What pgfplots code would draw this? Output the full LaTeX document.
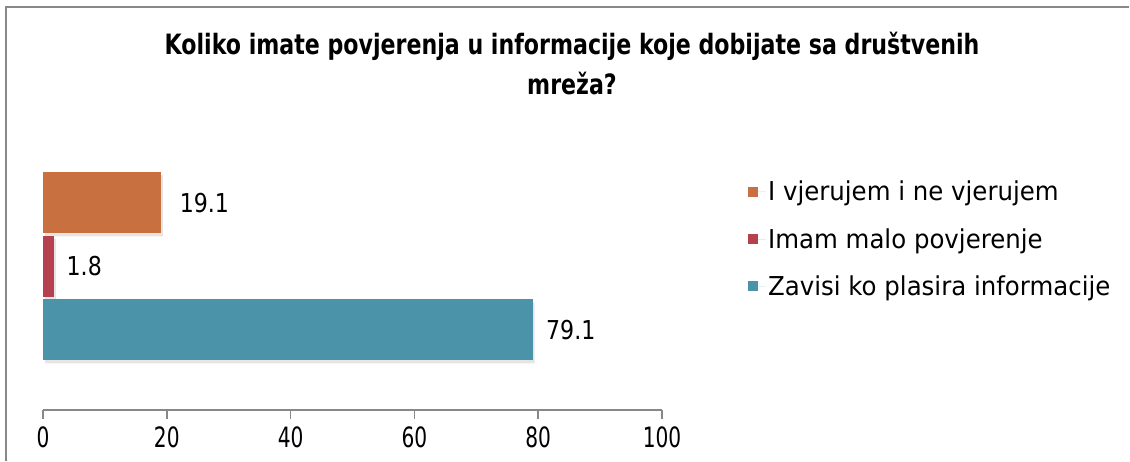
\documentclass[border=0pt]{standalone}
\usepackage{fontspec}
\setmainfont{DejaVu Sans}
\newfontfamily\titlefont[FakeStretch=0.79]{DejaVu Sans}
\newfontfamily\tickfont[FakeStretch=0.72]{DejaVu Sans}
\newfontfamily\legfont[FakeStretch=0.94]{DejaVu Sans}
\newfontfamily\labfont[FakeStretch=0.85]{DejaVu Sans}
\usepackage{pgfplots}
\pgfplotsset{compat=1.18}
\definecolor{cOrange}{HTML}{C8703F}
\definecolor{cRed}{HTML}{B5404F}
\definecolor{cTeal}{HTML}{4A93A8}
\definecolor{cGray}{HTML}{888888}
\begin{document}
\begin{tikzpicture}[x=1pt,y=1pt]
\path[use as bounding box, fill=white] (0,0) rectangle (1130,461);
\draw[cGray, line width=2pt] (6,0) -- (6,454) -- (1129,454);
\node[align=center, font=\titlefont\bfseries\fontsize{28}{40}\selectfont, inner sep=0pt] at (572,397) {Koliko imate povjerenja u informacije koje dobijate sa društvenih\\mreža?};
\begin{axis}[
  at={(43pt,51pt)}, anchor=south west,
  scale only axis, width=619pt, height=239pt,
  xmin=0, xmax=100, ymin=-1.26, ymax=2.5,
  axis y line=none, axis x line*=bottom,
  x axis line style={cGray, line width=2pt},
  xtick={0,20,40,60,80,100},
  tick align=outside, major tick length=9pt,
  every tick/.style={cGray, line width=1.5pt},
  xticklabel style={font=\tickfont\fontsize{28}{32}\selectfont, yshift=-4pt},
  /pgf/number format/assume math mode=true,
  xbar, bar width=61pt, bar shift=0pt,
  every node near coord/.append style={font=\labfont\fontsize{26}{30}\selectfont, black, anchor=west},
  legend style={at={(1.134,0.975)}, anchor=north west, draw=none, fill=none,
    font=\legfont\fontsize{26}{30}\selectfont, row sep=22pt},
  legend cell align=left,
  legend image code/.code={\fill[#1] (0pt,-5pt) rectangle (10pt,5pt); \path (0pt,0pt) -- (18pt,0pt);},
  shadowbar/.style={forget plot, fill=black, fill opacity=0.10, draw=none, bar shift=-3pt, xshift=2pt},
]
\addplot[shadowbar] coordinates {(19.1,2) (1.8,1) (79.1,0)};
\addplot[fill=cOrange, draw=none, nodes near coords, every node near coord/.append style={xshift=15pt}] coordinates {(19.1,2)};
\addlegendentry{I vjerujem i ne vjerujem}
\addplot[fill=cRed, draw=none, nodes near coords, every node near coord/.append style={xshift=9pt}] coordinates {(1.8,1)};
\addlegendentry{Imam malo povjerenje}
\addplot[fill=cTeal, draw=none, nodes near coords, every node near coord/.append style={xshift=10pt}] coordinates {(79.1,0)};
\addlegendentry{Zavisi ko plasira informacije}
\end{axis}
\end{tikzpicture}
\end{document}
